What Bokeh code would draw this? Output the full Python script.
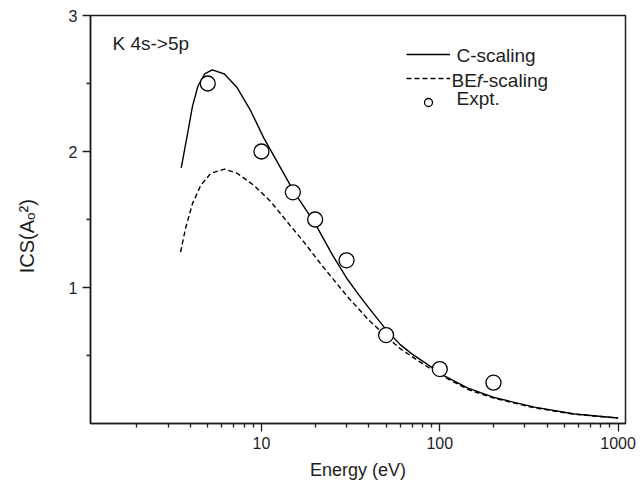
from bokeh.plotting import figure
from bokeh.models import FixedTicker, Label, Legend, LegendItem, PrintfTickFormatter, Range1d
from bokeh.embed import file_html
from bokeh.resources import INLINE

# C-scaling curve (solid)
energy_c = [3.55, 3.85, 4.1, 4.4, 4.8, 5.3, 6.2, 7.3, 8.7, 10.3, 12.8, 15.3, 20, 25, 30, 35, 40,
            50, 60, 70, 84, 106, 144, 203, 340, 570, 1000]
ics_c = [1.88, 2.13, 2.33, 2.48, 2.57, 2.60, 2.57, 2.47, 2.30, 2.10, 1.88, 1.70, 1.47, 1.24,
         1.07, 0.95, 0.85, 0.69, 0.58, 0.51, 0.44, 0.35, 0.26, 0.19, 0.12, 0.07, 0.04]

# BEf-scaling curve (dashed)
energy_bef = [3.52, 3.76, 4.1, 4.56, 5.2, 6.2, 7.3, 9.1, 11.3, 14.0, 17.4, 21.6, 30.5, 40,
              50, 60, 80, 100, 144, 203, 340, 570, 1000]
ics_bef = [1.26, 1.44, 1.615, 1.75, 1.84, 1.87, 1.84, 1.75, 1.63, 1.48, 1.33, 1.17, 0.93, 0.76,
           0.64, 0.55, 0.44, 0.36, 0.25, 0.185, 0.115, 0.068, 0.04]

# Experiment
energy_expt = [5, 10, 15, 20, 30, 50, 100, 200]
ics_expt = [2.5, 2.0, 1.7, 1.5, 1.2, 0.65, 0.4, 0.3]

x_major_ticks = [10, 100, 1000]
x_minor_ticks = [2, 3, 4, 5, 6, 7, 8, 9, 20, 30, 40, 50, 60, 70, 80, 90,
                 200, 300, 400, 500, 600, 700, 800, 900]
y_major_ticks = [1, 2, 3]
y_minor_ticks = [0.5, 1.5, 2.5]

FONT = "Liberation Sans"
INK = "#1e1e1e"

p = figure(width=640, height=487, x_axis_type="log",
           x_range=Range1d(1.1, 1100), y_range=Range1d(0, 3),
           output_backend="svg", toolbar_location=None,
           min_border_left=90, min_border_right=15, min_border_top=15, min_border_bottom=64)
p.grid.visible = False
p.outline_line_color = INK
p.outline_line_width = 1.5
p.background_fill_color = "white"
p.border_fill_color = "white"

for ax in (p.xaxis[0], p.yaxis[0]):
    ax.axis_line_color = INK
    ax.axis_line_width = 1.5
    ax.major_tick_line_color = INK
    ax.minor_tick_line_color = INK
    ax.major_tick_line_width = 1.3
    ax.minor_tick_line_width = 1.3
    ax.major_tick_in = 0
    ax.major_tick_out = 8
    ax.minor_tick_in = 0
    ax.minor_tick_out = 4
    ax.major_label_text_font = FONT
    ax.major_label_text_font_size = "16px"
    ax.major_label_text_color = INK
    ax.major_label_standoff = 5

p.xaxis[0].ticker = FixedTicker(ticks=x_major_ticks, minor_ticks=x_minor_ticks)
p.xaxis[0].formatter = PrintfTickFormatter(format="%d")
p.xaxis[0].axis_label = "Energy (eV)"
p.xaxis[0].axis_label_text_font = FONT
p.xaxis[0].axis_label_text_font_size = "18px"
p.xaxis[0].axis_label_text_font_style = "normal"
p.xaxis[0].axis_label_text_color = INK
p.xaxis[0].axis_label_standoff = 8

p.yaxis[0].ticker = FixedTicker(ticks=y_major_ticks, minor_ticks=y_minor_ticks)
p.yaxis[0].formatter = PrintfTickFormatter(format="%d")
p.yaxis[0].axis_label = "ICS(A\u2092\u00b2)" + "\u00a0" * 6
p.yaxis[0].axis_label_text_font = FONT
p.yaxis[0].axis_label_text_font_size = "20px"
p.yaxis[0].axis_label_text_font_style = "normal"
p.yaxis[0].axis_label_text_color = INK
p.yaxis[0].axis_label_standoff = 28

r_c = p.line(energy_c, ics_c, line_color="black", line_width=1.4)
r_b = p.line(energy_bef, ics_bef, line_color="black", line_width=1.4, line_dash="5 3")
r_e = p.scatter(energy_expt, ics_expt, marker="circle", size=15, fill_color="white",
                line_color="black", line_width=1.3)

legend = Legend(items=[LegendItem(label=" ", renderers=[r_c]),
                       LegendItem(label=" ", renderers=[r_b]),
                       LegendItem(label=" ", renderers=[r_e])],
                location=(316, 311), glyph_width=44, glyph_height=20, label_height=20,
                spacing=4, padding=0, margin=0, border_line_alpha=0,
                background_fill_alpha=0, label_standoff=0, label_text_font_size="1px")
p.add_layout(legend)

fs = 19
def lab(text, x, y, size=fs, style="normal"):
    p.add_layout(Label(x=x, y=y, x_units="screen", y_units="screen", text=text,
                       text_font=FONT, text_font_size=f"{size}px", text_font_style=style,
                       text_color=INK, text_baseline="middle", text_align="left"))

# legend texts
lab("C-scaling", 366, 368)
lab("BE", 361, 343)
lab("f", 361 + 1.334 * fs, 343, style="italic")
lab("-scaling", 361 + 1.334 * fs + 0.30 * fs, 343)
lab("Expt.", 366, 325)

# annotation
lab("K 4s->5p", 22, 380)

open("out.html", "w").write(file_html(p, INLINE))
